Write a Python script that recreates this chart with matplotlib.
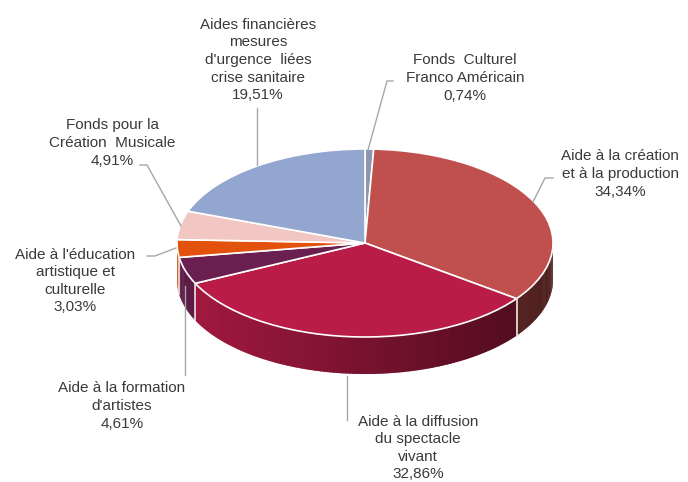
import numpy as np
import matplotlib.pyplot as plt
import matplotlib.colors as mcolors
from matplotlib.patches import Polygon
from matplotlib.transforms import Affine2D

# data
labels = ['Fonds  Culturel\nFranco Américain',
          'Aide à la création\net à la production',
          'Aide à la diffusion\ndu spectacle\nvivant',
          'Aide à la formation\nd\'artistes',
          'Aide à l\'éducation\nartistique et\nculturelle',
          'Fonds pour la\nCréation  Musicale',
          'Aides financières\nmesures\nd\'urgence  liées\ncrise sanitaire']
values = [0.74, 34.34, 32.86, 4.61, 3.03, 4.91, 19.51]
colors = ['#8C97AF', '#C0504D', '#B81C47', '#6B1E50', '#E2520C', '#F2C6C2', '#92A6CF']

# label layout (pixel coords, y downwards)
label_pos = [(465, 78), (620, 174), (418, 448), (122, 406), (75, 281), (112, 143), (258, 60)]
leaders = [
    [(393, 81), (387, 81), (368, 150)],
    [(553, 178), (545, 178), (533, 202)],
    [(347, 420), (347, 376)],
    [(185, 375), (185, 286)],
    [(147, 256), (155, 256), (176, 248)],
    [(140, 165), (147, 165), (181, 226)],
    [(257, 108), (257, 165)],
]

cx, cy, rx, ry, depth = 365, 243, 188, 94, 37

plt.rcParams['font.family'] = ['Liberation Sans', 'DejaVu Sans']

fig = plt.figure(figsize=(6.88, 4.82), dpi=100)
ax = fig.add_axes([0, 0, 1, 1])

frac = np.array(values) / sum(values)
bounds = 90 - 360 * np.concatenate([[0], np.cumsum(frac)])


def ell(t, dy=0):
    r = np.radians(t)
    return cx + rx * np.cos(r), cy - ry * np.sin(r) + dy


# side walls (front half only), shaded left to right
for i in range(len(values)):
    hi, lo = bounds[i], bounds[i + 1]
    a0, a1 = max(lo, -180), min(hi, 0)
    if a1 <= a0:
        continue
    n = max(2, int(a1 - a0) + 1)
    ts = np.linspace(a0, a1, n + 1)
    base = np.array(mcolors.to_rgb(colors[i]))
    for t0, t1 in zip(ts[:-1], ts[1:]):
        f = 0.65 - 0.25 * np.cos(np.radians((t0 + t1) / 2))
        c = np.clip(base * f, 0, 1)
        t1 = min(t1 + 0.6, a1)
        x0, y0 = ell(t0)
        x1, y1 = ell(t1)
        ax.add_patch(Polygon([(x0, y0), (x1, y1), (x1, y1 + depth), (x0, y0 + depth)],
                             closed=True, fc=c, ec='none'))

for b in bounds:
    if -180 < b < 0:
        x0, y0 = ell(b)
        ax.plot([x0, x0], [y0, y0 + depth], color='#F0E0E0', lw=1.2)

# top face
wedges, _ = ax.pie(values, colors=colors, startangle=90, counterclock=False,
                   wedgeprops=dict(edgecolor='white', linewidth=1.2))
tr = Affine2D().scale(rx, -ry).translate(cx, cy) + ax.transData
for w in wedges:
    w.set_transform(tr)

# labels
for lab, v, (x, y), pts in zip(labels, values, label_pos, leaders):
    pts = np.array(pts)
    ax.plot(pts[:, 0], pts[:, 1], color='#A6A6A6', lw=1)
    ax.text(x, y, lab + '\n' + f'{v:.2f}%'.replace('.', ','), ha='center', va='center',
            fontsize=11, color='#3A3A3A', linespacing=1.32)

ax.set_aspect('auto')
ax.set_xlim(0, 688)
ax.set_ylim(482, 0)
ax.axis('off')

plt.savefig('out.png', dpi=100)
